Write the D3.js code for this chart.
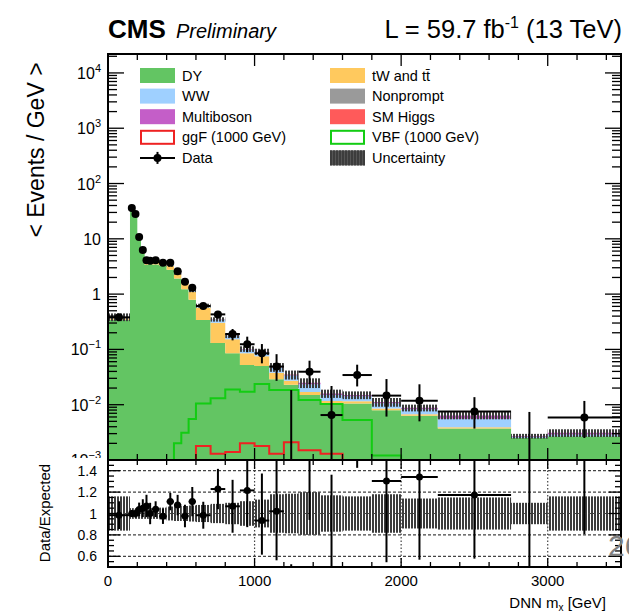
<!DOCTYPE html>
<html>
<head>
<meta charset="utf-8">
<script src="https://cdn.jsdelivr.net/npm/d3@7"></script>
<style>
  body { margin: 0; background: #fff; }
  svg { display: block; }
  text { font-family: "Liberation Sans", Arial, Helvetica, sans-serif; fill: #000; }
</style>
</head>
<body>
<svg id="chart" width="629" height="613"></svg>
<script>
// ---- binning (GeV) ----
const binEdges = [0, 150, 175, 200, 225, 250, 275, 300, 350, 400, 450, 500, 550, 600,
                  700, 800, 900, 1000, 1100, 1200, 1300, 1450, 1600, 1800, 2000, 2250, 2750, 3000, 3500];

// ---- background expectations (events / GeV), one value per bin ----
const dyYield         = [0.345, 35.0, 27.1, 9.7, 5.5, 3.40, 3.55, 3.42, 3.25, 2.75, 1.92, 1.23, 0.79, 0.34, 0.13, 0.085, 0.052, 0.050, 0.029, 0.023, 0.015, 0.0105, 0.0105, 0.0079, 0.0063, 0.0037, 0.0025, 0.0027];
const topYield        = [0.020, 0.70, 0.60, 0.50, 0.38, 0.34, 0.36, 0.42, 0.45, 0.47, 0.40, 0.40, 0.31, 0.23, 0.175, 0.068, 0.033, 0.025, 0.009, 0.004, 0.002, 0.0012, 0.0010, 0.0006, 0.0004, 0.0002, 0, 0];
const wwYield         = [0.008, 0.15, 0.15, 0.10, 0.07, 0.06, 0.06, 0.07, 0.08, 0.09, 0.075, 0.07, 0.06, 0.045, 0.040, 0.022, 0.015, 0.014, 0.0085, 0.0068, 0.0065, 0.0033, 0.0027, 0.0021, 0.0016, 0.0017, 0.0001, 0.0002];
const multibosonYield = [0.004, 0.05, 0.05, 0.03, 0.02, 0.010, 0.012, 0.012, 0.010, 0.010, 0.008, 0.006, 0.005, 0.003, 0.003, 0.002, 0.0015, 0.0015, 0.0012, 0.0010, 0.0014, 0.0010, 0.0008, 0.0006, 0.0005, 0.0008, 0.0001, 0.0002];
const nonpromptYield  = [0.007, 0.08, 0.08, 0.05, 0.02, 0.015, 0.013, 0.013, 0.008, 0.008, 0.005, 0.003, 0.004, 0.0015, 0.0015, 0.0008, 0.0004, 0.0004, 0.0002, 0.0001, 0.0001, 0, 0, 0, 0, 0, 0, 0];
const smHiggsYield    = [0.002, 0.02, 0.02, 0.02, 0.01, 0.005, 0.005, 0.005, 0.002, 0.002, 0.002, 0.001, 0.001, 0.0005, 0.0005, 0.0002, 0.0001, 0.0001, 0.0001, 0.0001, 0, 0, 0, 0, 0, 0, 0, 0];

// relative total uncertainty on the expectation
const bkgUncertainty  = [0.16, 0.05, 0.05, 0.05, 0.05, 0.05, 0.05, 0.05, 0.055, 0.065, 0.07, 0.07, 0.075, 0.08, 0.09, 0.10, 0.115, 0.13, 0.18, 0.185, 0.20, 0.17, 0.16, 0.18, 0.14, 0.15, 0.10, 0.16];

// ---- signal hypotheses, m = 1000 GeV (events / GeV) ----
const ggfSignal = [0, 0, 0, 0, 0, 0, 0, 0, 0, 0, 0, 0, 0, 0.0018, 0.0013, 0.0014, 0.0020, 0.0018, 0.0013, 0.0021, 0.0015, 0.0013, 0, 0, 0, 0, 0, 0];
const vbfSignal = [0, 0, 0, 0, 0, 0, 0, 0, 0, 0, 0.0020, 0.0031, 0.0055, 0.0105, 0.0131, 0.0189, 0.0172, 0.0237, 0.0185, 0.0185, 0.0122, 0.0103, 0.0053, 0.0012, 0, 0, 0, 0];

// ---- observed data (events / GeV) and asymmetric errors ----
const dataValues  = [0.38, 36, 28, 10.8, 6.3, 4.1, 4.0, 4.1, 3.7, 3.7, 2.6, 1.67, 1.3, 0.61, 0.43, 0.19, 0.124, 0.085, 0.049, 0, 0.0395, 0.0065, 0.0344, 0.0146, 0.0118, 0.0075, 0, 0.0059];
const dataErrUp   = [0.05, 1.2, 1.06, 0.66, 0.5, 0.4, 0.4, 0.29, 0.27, 0.27, 0.23, 0.18, 0.16, 0.078, 0.066, 0.044, 0.046, 0.040, 0.033, 0.0184, 0.023, 0.0153, 0.0185, 0.0145, 0.0116, 0.0062, 0.0074, 0.0058];
const dataErrDown = [0.05, 1.2, 1.06, 0.66, 0.5, 0.4, 0.4, 0.29, 0.27, 0.27, 0.23, 0.18, 0.16, 0.078, 0.066, 0.044, 0.035, 0.029, 0.022, 0, 0.016, 0.0055, 0.013, 0.0085, 0.0068, 0.0038, 0, 0.0034];

// ---- axis tick labels ----
const yMainTickExps = [4, 3, 2, 1, 0, -1, -2, -3];
const ratioTickValues = [1.4, 1.2, 1, 0.8, 0.6];
const xTickValues = [0, 1000, 2000, 3000];

// ---- styling ----
const colors = {
  dy: "#63c563", top: "#ffc95e", ww: "#9fd0ff", multiboson: "#c45ec8",
  nonprompt: "#9a9a9a", smhiggs: "#ff5a5a", ggf: "#ee2222", vbf: "#13cc13"
};

const svg = d3.select("#chart");
const defs = svg.append("defs");

const pat = defs.append("pattern").attr("id", "hatch")
  .attr("width", 3).attr("height", 3).attr("patternUnits", "userSpaceOnUse");
pat.append("line").attr("x1", 1).attr("y1", 0).attr("x2", 1).attr("y2", 3)
  .attr("stroke", "#3c3c3c").attr("stroke-width", 2);

const X0 = 108, X1 = 621, YT = 54, YB = 460, RT = 460, RB = 567;

defs.append("clipPath").attr("id", "clipMain").append("rect")
  .attr("x", X0).attr("y", YT).attr("width", X1 - X0).attr("height", YB - YT);
defs.append("clipPath").attr("id", "clipRatio").append("rect")
  .attr("x", X0).attr("y", RT).attr("width", X1 - X0).attr("height", RB - RT);

const x = d3.scaleLinear().domain([0, 3500]).range([X0, X1]);
const y = d3.scaleLog().domain([1e-3, 2.2e4]).range([YB, YT]).clamp(true);
const r = d3.scaleLinear().domain([0.5, 1.5]).range([RB, RT]);
const ly = v => y(Math.max(v, 1e-7));

const bins = binEdges.slice(0, -1).map((lo, i) => ({ i, lo, hi: binEdges[i + 1] }));

// ---- stacked backgrounds ----
const keys = ["dy", "top", "ww", "multiboson", "nonprompt", "smhiggs"];
const rows = bins.map((b, i) => ({
  dy: dyYield[i], top: topYield[i], ww: wwYield[i],
  multiboson: multibosonYield[i], nonprompt: nonpromptYield[i], smhiggs: smHiggsYield[i]
}));
const stacked = d3.stack().keys(keys)(rows);
const totals = rows.map(d => keys.reduce((s, k) => s + d[k], 0));

const gMain = svg.append("g").attr("clip-path", "url(#clipMain)");

const stepArea = d3.area().x(p => x(p.x)).y0(p => ly(p.y0)).y1(p => ly(p.y1));
stacked.forEach(layer => {
  const pts = [];
  layer.forEach((d, i) => {
    pts.push({ x: bins[i].lo, y0: d[0], y1: d[1] });
    pts.push({ x: bins[i].hi, y0: d[0], y1: d[1] });
  });
  gMain.append("path").attr("d", stepArea(pts)).attr("fill", colors[layer.key]);
});

// uncertainty boxes on the total
gMain.selectAll("rect.unc").data(bins).join("rect").attr("class", "unc")
  .attr("x", b => x(b.lo)).attr("width", b => x(b.hi) - x(b.lo))
  .attr("y", b => ly(totals[b.i] * (1 + bkgUncertainty[b.i])))
  .attr("height", b => ly(totals[b.i] * (1 - bkgUncertainty[b.i])) - ly(totals[b.i] * (1 + bkgUncertainty[b.i])))
  .attr("fill", "url(#hatch)");

// signal outlines
const stepLine = d3.line().x(p => x(p.x)).y(p => ly(p.v));
function signalPath(vals) {
  const pts = [];
  vals.forEach((v, i) => { pts.push({ x: bins[i].lo, v }); pts.push({ x: bins[i].hi, v }); });
  return stepLine(pts);
}
gMain.append("path").attr("d", signalPath(vbfSignal)).attr("fill", "none")
  .attr("stroke", colors.vbf).attr("stroke-width", 2);
gMain.append("path").attr("d", signalPath(ggfSignal)).attr("fill", "none")
  .attr("stroke", colors.ggf).attr("stroke-width", 2);

// data points
const gData = gMain.append("g").attr("stroke", "#000").attr("stroke-width", 2);
bins.forEach(b => {
  const v = dataValues[b.i], cx = x((b.lo + b.hi) / 2);
  gData.append("line").attr("x1", cx).attr("x2", cx)
    .attr("y1", ly(v + dataErrUp[b.i])).attr("y2", ly(v - dataErrDown[b.i]));
  if (v > 0) {
    gData.append("line").attr("x1", x(b.lo)).attr("x2", x(b.hi)).attr("y1", ly(v)).attr("y2", ly(v));
    gData.append("circle").attr("cx", cx).attr("cy", ly(v)).attr("r", 4).attr("fill", "#000").attr("stroke", "none");
  }
});

// ---- main frame and ticks ----
const gAx = svg.append("g").attr("stroke", "#000");
gAx.append("rect").attr("x", X0).attr("y", YT).attr("width", X1 - X0).attr("height", YB - YT)
  .attr("fill", "none").attr("stroke-width", 2);

for (let e = -3; e <= 4; e++) {
  for (let m = 1; m <= 9; m++) {
    const v = m * Math.pow(10, e);
    if (v > 2.2e4 || v < 1e-3) continue;
    const yy = y(v), len = m === 1 ? 16 : 9;
    gAx.append("line").attr("x1", X0).attr("x2", X0 + len).attr("y1", yy).attr("y2", yy).attr("stroke-width", 1.3);
    gAx.append("line").attr("x1", X1).attr("x2", X1 - len).attr("y1", yy).attr("y2", yy).attr("stroke-width", 1.3);
  }
}
d3.range(0, 3501, 200).forEach(v => {
  const major = v % 1000 === 0, xx = x(v);
  const len = major ? 12 : 6;
  gAx.append("line").attr("x1", xx).attr("x2", xx).attr("y1", YB).attr("y2", YB - len).attr("stroke-width", 1.3);
  gAx.append("line").attr("x1", xx).attr("x2", xx).attr("y1", YT).attr("y2", YT + len).attr("stroke-width", 1.3);
});

// y tick labels (powers of ten)
const gYL = svg.append("g").attr("font-size", 16).attr("text-anchor", "end");
yMainTickExps.forEach(e => {
  const t = gYL.append("text").attr("x", 101).attr("y", y(Math.pow(10, e)) + 6);
  if (e === 0) t.text("1");
  else if (e === 1) t.text("10");
  else {
    t.append("tspan").text("10");
    t.append("tspan").attr("font-size", 11).attr("dy", -7).text(e < 0 ? "\u2212" + (-e) : String(e));
  }
});

// ---- legend ----
const legendRows = [
  [{ label: "DY", kind: "fill", key: "dy" }, { label: "tW and t", bar: true, kind: "fill", key: "top" }],
  [{ label: "WW", kind: "fill", key: "ww" }, { label: "Nonprompt", kind: "fill", key: "nonprompt" }],
  [{ label: "Multiboson", kind: "fill", key: "multiboson" }, { label: "SM Higgs", kind: "fill", key: "smhiggs" }],
  [{ label: "ggF (1000 GeV)", kind: "line", key: "ggf" }, { label: "VBF (1000 GeV)", kind: "line", key: "vbf" }],
  [{ label: "Data", kind: "data" }, { label: "Uncertainty", kind: "hatch" }]
];
const gLeg = svg.append("g");
const colX = [140, 330];
legendRows.forEach((row, ri) => {
  const cy = 75.5 + ri * 20.6;
  row.forEach((it, ci) => {
    const sx = colX[ci];
    if (it.kind === "fill") {
      gLeg.append("rect").attr("x", sx).attr("y", cy - 7.5).attr("width", 35).attr("height", 15)
        .attr("fill", colors[it.key]);
    } else if (it.kind === "line") {
      gLeg.append("rect").attr("x", sx + 1).attr("y", cy - 6.5).attr("width", 33).attr("height", 13)
        .attr("fill", "#fff").attr("stroke", colors[it.key]).attr("stroke-width", 2);
    } else if (it.kind === "hatch") {
      gLeg.append("rect").attr("x", sx).attr("y", cy - 7.5).attr("width", 35).attr("height", 15)
        .attr("fill", "#555");
      gLeg.append("rect").attr("x", sx).attr("y", cy - 7.5).attr("width", 35).attr("height", 15)
        .attr("fill", "url(#hatch)");
    } else {
      gLeg.append("line").attr("x1", sx).attr("x2", sx + 35).attr("y1", cy).attr("y2", cy)
        .attr("stroke", "#000").attr("stroke-width", 2);
      gLeg.append("line").attr("x1", sx + 17.5).attr("x2", sx + 17.5).attr("y1", cy - 6).attr("y2", cy + 6)
        .attr("stroke", "#000").attr("stroke-width", 2);
      gLeg.append("circle").attr("cx", sx + 17.5).attr("cy", cy).attr("r", 4);
    }
    const t = gLeg.append("text").attr("x", sx + 42).attr("y", cy + 5).attr("font-size", 14.5).text(it.label);
    if (it.bar) t.append("tspan").text("t\u0304");
  });
});

// ---- header ----
svg.append("text").attr("x", 108).attr("y", 38).attr("font-size", 26).attr("font-weight", "bold").text("CMS");
svg.append("text").attr("x", 176).attr("y", 38).attr("font-size", 20).attr("font-style", "italic").text("Preliminary");
const lumi = svg.append("text").attr("x", 622).attr("y", 38).attr("font-size", 25.5).attr("text-anchor", "end");
lumi.append("tspan").text("L = 59.7 fb");
lumi.append("tspan").attr("font-size", 16).attr("dy", -10).text("-1");
lumi.append("tspan").attr("dy", 10).text(" (13 TeV)");

svg.append("text").attr("transform", "translate(44,150) rotate(-90)").attr("text-anchor", "middle")
  .attr("font-size", 23).text("< Events / GeV >");

// ---- ratio pad ----
svg.append("rect").attr("x", 0).attr("y", 458).attr("width", X0 - 1).attr("height", 155).attr("fill", "#fff");
svg.append("rect").attr("x", 0).attr("y", RB + 1).attr("width", 629).attr("height", 613 - RB - 1).attr("fill", "#fff");

const gR = svg.append("g").attr("clip-path", "url(#clipRatio)");
gR.selectAll("rect.band").data(bins).join("rect").attr("class", "band")
  .attr("x", b => x(b.lo)).attr("width", b => x(b.hi) - x(b.lo))
  .attr("y", b => r(1 + bkgUncertainty[b.i]))
  .attr("height", b => r(1 - bkgUncertainty[b.i]) - r(1 + bkgUncertainty[b.i]))
  .attr("fill", "url(#hatch)");

[0.6, 0.8, 1.0, 1.2, 1.4].forEach(v => {
  gR.append("line").attr("x1", X0).attr("x2", X1).attr("y1", r(v)).attr("y2", r(v))
    .attr("stroke", "#444").attr("stroke-width", 1.2).attr("stroke-dasharray", "3,2");
});
[1000, 2000, 3000].forEach(v => {
  gR.append("line").attr("x1", x(v)).attr("x2", x(v)).attr("y1", RT).attr("y2", RB)
    .attr("stroke", "#444").attr("stroke-width", 1.2).attr("stroke-dasharray", "1.5,2");
});

const gRD = gR.append("g").attr("stroke", "#000").attr("stroke-width", 2);
bins.forEach(b => {
  const T = totals[b.i], v = dataValues[b.i] / T, cx = x((b.lo + b.hi) / 2);
  const up = (dataValues[b.i] + dataErrUp[b.i]) / T, dn = (dataValues[b.i] - dataErrDown[b.i]) / T;
  gRD.append("line").attr("x1", cx).attr("x2", cx).attr("y1", r(Math.min(up, 3))).attr("y2", r(Math.max(dn, 0)));
  if (dataValues[b.i] > 0) {
    gRD.append("line").attr("x1", x(b.lo)).attr("x2", x(b.hi)).attr("y1", r(v)).attr("y2", r(v));
    gRD.append("circle").attr("cx", cx).attr("cy", r(v)).attr("r", 3.5).attr("fill", "#000").attr("stroke", "none");
  }
});

const gRA = svg.append("g").attr("stroke", "#000");
gRA.append("rect").attr("x", X0).attr("y", RT).attr("width", X1 - X0).attr("height", RB - RT)
  .attr("fill", "none").attr("stroke-width", 2);
d3.range(0.5, 1.5001, 0.05).forEach(v => {
  const major = Math.abs(v * 5 - Math.round(v * 5)) < 1e-6;
  const len = major ? 12 : 6, yy = r(v);
  gRA.append("line").attr("x1", X0).attr("x2", X0 + len).attr("y1", yy).attr("y2", yy).attr("stroke-width", 1.3);
  gRA.append("line").attr("x1", X1).attr("x2", X1 - len).attr("y1", yy).attr("y2", yy).attr("stroke-width", 1.3);
});
d3.range(0, 3501, 200).forEach(v => {
  const major = v % 1000 === 0, xx = x(v), len = major ? 9 : 5;
  gRA.append("line").attr("x1", xx).attr("x2", xx).attr("y1", RB).attr("y2", RB - len).attr("stroke-width", 1.3);
  gRA.append("line").attr("x1", xx).attr("x2", xx).attr("y1", RT).attr("y2", RT + len).attr("stroke-width", 1.3);
});

const gRL = svg.append("g").attr("font-size", 14).attr("text-anchor", "end");
ratioTickValues.forEach(v => gRL.append("text").attr("x", 97).attr("y", r(v) + 5).text(String(v)));

svg.append("g").attr("font-size", 15).attr("text-anchor", "middle").selectAll("text")
  .data(xTickValues).join("text").attr("x", d => x(d)).attr("y", 586).text(d => String(d));

svg.append("text").attr("transform", "translate(50,513) rotate(-90)").attr("text-anchor", "middle")
  .attr("font-size", 15).text("Data/Expected");

const xt = svg.append("text").attr("x", 606).attr("y", 608).attr("text-anchor", "end").attr("font-size", 15);
xt.append("tspan").text("DNN m");
xt.append("tspan").attr("font-size", 10).attr("dy", 3).text("x");
xt.append("tspan").attr("dy", -3).text(" [GeV]");

// page number
svg.append("text").attr("x", 608).attr("y", 556).attr("font-size", 30).style("fill", "#808080").text("26");
</script>
</body>
</html>
